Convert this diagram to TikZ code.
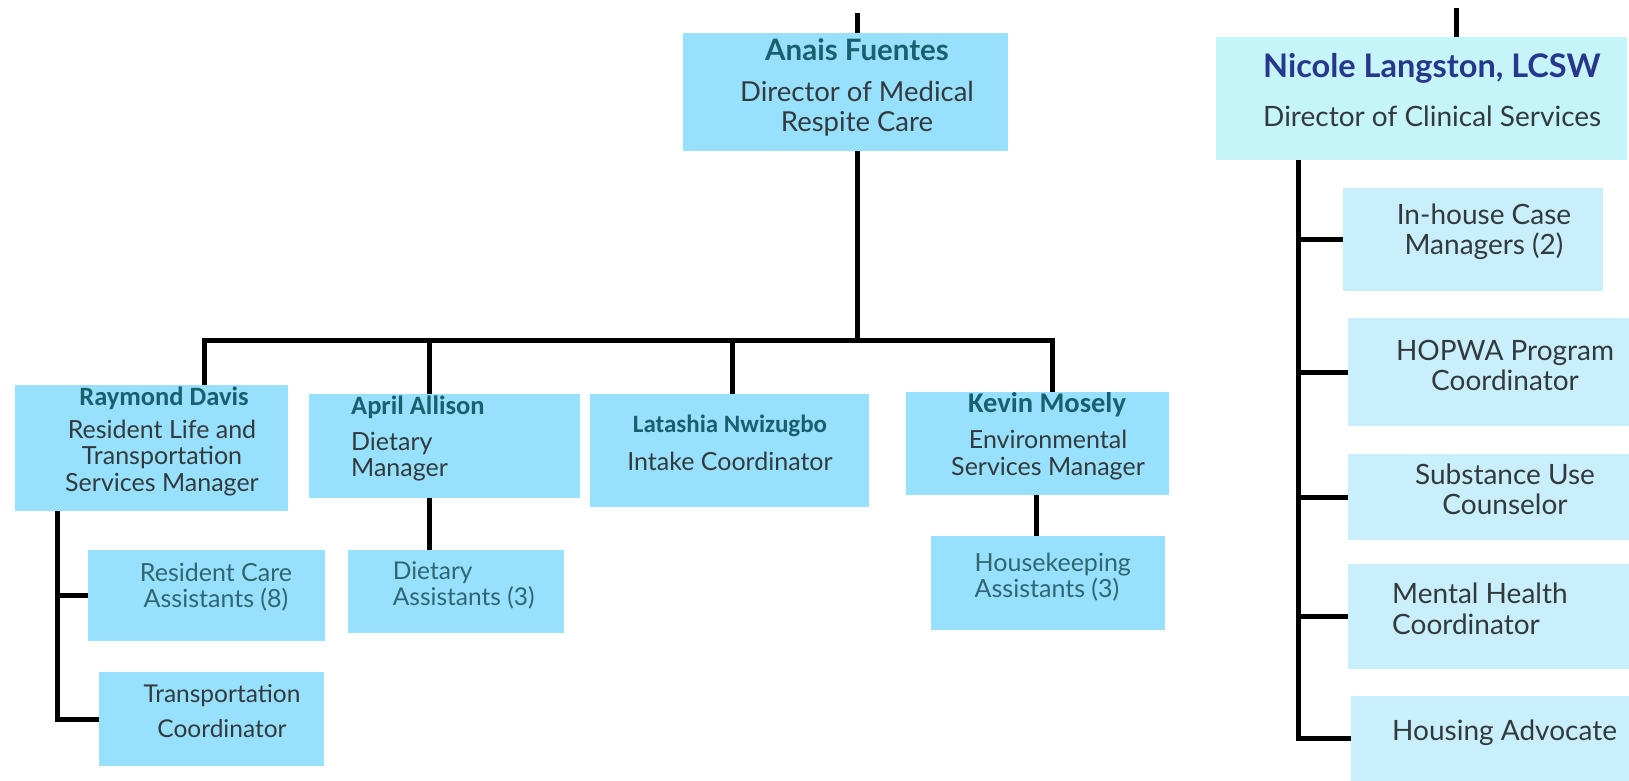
\documentclass[tikz,border=0pt]{standalone}
\usepackage{fontspec}
\setmainfont{Lato}
\newfontfamily\namefont{Carlito}
\definecolor{mainblue}{HTML}{97E1FE}
\definecolor{paleblue}{HTML}{C9EFFD}
\definecolor{palecyan}{HTML}{C6F5F9}
\definecolor{nameteal}{HTML}{1A5F6E}
\definecolor{navyname}{HTML}{27378C}
\definecolor{bodygray}{HTML}{333A3D}
\definecolor{subteal}{HTML}{2F6670}
\begin{document}
\begin{tikzpicture}[x=1pt,y=-1pt,
  box/.style={fill=#1, draw=none, inner sep=0pt, outer sep=0pt, anchor=north west},
  conn/.style={line width=5pt, black, line join=miter},
  nm/.style={inner sep=0pt, text=nameteal, font=\namefont\bfseries\fontsize{26}{30}\selectfont},
  tx/.style={inner sep=0pt, text=bodygray, align=center, font=\fontsize{25}{26.5}\selectfont},
  stx/.style={inner sep=0pt, text=subteal, align=center, font=\fontsize{25}{26}\selectfont},
  rtx/.style={inner sep=0pt, text=bodygray, align=center, font=\fontsize{28}{30.5}\selectfont}]
\useasboundingbox (0,0) rectangle (1629,781);
% boxes
\node[box=mainblue, minimum width=325pt, minimum height=118pt] (anais) at (682.5,33) {};
\node[box=palecyan, minimum width=411pt, minimum height=123pt] (nicole) at (1215.5,37) {};
\node[box=mainblue, minimum width=273pt, minimum height=126pt] (ray) at (14.5,385) {};
\node[box=mainblue, minimum width=271pt, minimum height=104pt] (april) at (308.6,393.7) {};
\node[box=mainblue, minimum width=278.5pt, minimum height=113pt] (lat) at (590,393.7) {};
\node[box=mainblue, minimum width=263pt, minimum height=103pt] (kev) at (906,391.7) {};
\node[box=mainblue, minimum width=234pt, minimum height=94pt] (house) at (931,536) {};
\node[box=mainblue, minimum width=216pt, minimum height=83pt] (dietA) at (348,549.6) {};
\node[box=mainblue, minimum width=237pt, minimum height=91.5pt] (rca) at (88.3,549.6) {};
\node[box=mainblue, minimum width=225.5pt, minimum height=94pt] (trans) at (98.7,672) {};
\node[box=paleblue, minimum width=260pt, minimum height=103pt] (inhouse) at (1343,188) {};
\node[box=paleblue, minimum width=281.5pt, minimum height=108pt] (hopwa) at (1347.5,318) {};
\node[box=paleblue, minimum width=281.5pt, minimum height=86pt] (subst) at (1347.5,454) {};
\node[box=paleblue, minimum width=281.5pt, minimum height=105pt] (mental) at (1347.5,564) {};
\node[box=paleblue, minimum width=278.5pt, minimum height=85pt] (housing) at (1350.7,696) {};
% texts
\node[nm, font=\bfseries\fontsize{29.5}{32}\selectfont] (anaisN) at (857,50) {Anais Fuentes};
\node[tx, font=\fontsize{27.5}{30}\selectfont] (anaisT) at (857,108.5) {Director of Medical\\Respite Care};
\node[nm, text=navyname, font=\bfseries\fontsize{32.5}{36}\selectfont, anchor=west] (nicoleN) at (1263,68.6) {Nicole Langston, LCSW};
\node[tx, font=\fontsize{28}{30}\selectfont, anchor=west] (nicoleT) at (1263,116) {Director of Clinical Services};
\node[nm, font=\namefont\bfseries\fontsize{26.5}{30}\selectfont] (rayN) at (164,398) {Raymond Davis};
\node[tx] (rayT) at (162,458) {Resident Life and\\Transportation\\Services Manager};
\node[nm, font=\namefont\bfseries\fontsize{26.5}{30}\selectfont, anchor=west] (aprN) at (351,407) {April Allison};
\node[tx, align=left, anchor=west] (aprT) at (351,456.6) {Dietary\\Manager};
\node[nm, font=\namefont\bfseries\fontsize{25}{30}\selectfont] (latN) at (730,426) {Latashia Nwizugbo};
\node[tx] (latT) at (730,461) {Intake Coordinator};
\node[nm, font=\namefont\bfseries\fontsize{28.5}{30}\selectfont] (kevN) at (1047,405) {Kevin Mosely};
\node[tx] (kevT) at (1048,455) {Environmental\\Services Manager};
\node[stx, align=left, anchor=west] (houseT) at (974.5,577) {Housekeeping\\Assistants (3)};
\node[stx, font=\fontsize{24.5}{26}\selectfont, align=left, anchor=west] (dietAT) at (392.7,585.5) {Dietary\\Assistants (3)};
\node[stx] (rcaT) at (216,587.5) {Resident Care\\Assistants (8)};
\node[tx, font=\fontsize{24.5}{35}\selectfont] (transT) at (222,711.5) {Transportation\\Coordinator};
\node[rtx] (inhouseT) at (1484,231.5) {In-house Case\\Managers (2)};
\node[rtx] (hopwaT) at (1505,365.5) {HOPWA Program\\Coordinator};
\node[rtx] (substT) at (1505,489.5) {Substance Use\\Counselor};
\node[rtx, align=left, anchor=west] (mentalT) at (1392,609) {Mental Health\\Coordinator};
\node[rtx, anchor=west] (housingT) at (1392,732.5) {Housing Advocate};
% coordinates
\coordinate (topA) at (857,13);
\coordinate (topN) at (1456.6,8);
\coordinate (bus) at (0,340);
\coordinate (xR) at (204,0);
\coordinate (xAp) at (429,0);
\coordinate (xL) at (732.4,0);
\coordinate (xK) at (1052.4,0);
\coordinate (xKd) at (1036.8,0);
\coordinate (xRv) at (57,0);
\coordinate (xNv) at (1298.6,0);
% connectors
\draw[conn] (topA) -- (topA |- anais.north);
\draw[conn] (topN) -- (topN |- nicole.north);
\draw[conn] (topA |- anais.south) -- (topA |- bus);
\draw[conn] (xR |- ray.north) -- (xR |- bus) -- (xK |- bus) -- (xK |- kev.north);
\draw[conn] (xAp |- bus) -- (xAp |- april.north);
\draw[conn] (xL |- bus) -- (xL |- lat.north);
\draw[conn] (xAp |- april.south) -- (xAp |- dietA.north);
\draw[conn] (xKd |- kev.south) -- (xKd |- house.north);
\draw[conn] (xRv |- ray.south) |- (trans.west);
\draw[conn] (xRv |- rca.west) -- (rca.west);
\draw[conn] (xNv |- nicole.south) |- (housing.west);
\draw[conn] (xNv |- inhouse.west) -- (inhouse.west);
\draw[conn] (xNv |- hopwa.west) -- (hopwa.west);
\draw[conn] (xNv |- subst.west) -- (subst.west);
\draw[conn] (xNv |- mental.west) -- (mental.west);
\end{tikzpicture}
\end{document}
